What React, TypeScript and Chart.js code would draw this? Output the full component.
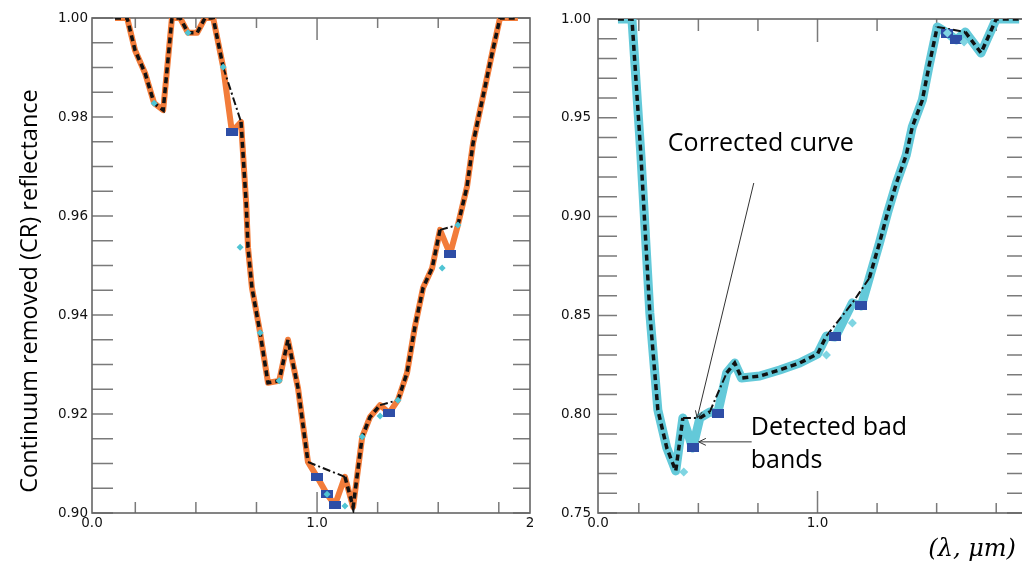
import React, { useEffect, useRef } from "react";
import { Chart, registerables } from "chart.js";

Chart.register(...registerables);

// ---------- Left panel (orange) ----------
const LEFT_WL = [0.333, 0.373, 0.399, 0.432, 0.462, 0.492, 0.521, 0.548, 0.574, 0.604, 0.630, 0.657, 0.690, 0.719, 0.749, 0.766, 0.772, 0.785, 0.812, 0.838, 0.875, 0.904, 0.937, 0.970, 1.000, 1.033, 1.059, 1.092, 1.119, 1.149, 1.175, 1.208, 1.238, 1.267, 1.297, 1.323, 1.350, 1.380, 1.406, 1.439, 1.465, 1.495, 1.515, 1.548, 1.578, 1.604, 1.663];
const LEFT_CR = [1.000, 1.000, 0.9935, 0.9889, 0.9828, 0.9814, 1.000, 1.000, 0.9970, 0.9970, 1.000, 1.000, 0.9901, 0.9770, 0.9790, 0.9626, 0.9537, 0.9455, 0.9364, 0.9263, 0.9267, 0.9350, 0.9253, 0.9103, 0.9073, 0.9038, 0.9016, 0.9073, 0.9012, 0.9154, 0.9194, 0.9218, 0.9202, 0.9228, 0.9283, 0.9376, 0.9455, 0.9495, 0.9572, 0.9523, 0.9582, 0.9659, 0.9747, 0.9842, 0.9929, 1.000, 1.000];
const LEFT_BAD = [13, 24, 25, 26, 32, 39];
const LEFT_MARK_WL = [0.462, 0.574, 0.690, 0.746, 0.812, 0.875, 1.033, 1.092, 1.149, 1.208, 1.267, 1.413, 1.465];
const LEFT_MARK_CR = [0.9828, 0.9970, 0.9901, 0.9537, 0.9364, 0.9267, 0.9038, 0.9014, 0.9154, 0.9196, 0.9228, 0.9495, 0.9582];

const LEFT_X_MIN = 0.257;
const LEFT_X_MAX = 1.703;
const LEFT_X_LABEL_VALUES = [LEFT_X_MIN, 1.0, LEFT_X_MAX];
const LEFT_X_LABELS = ["0.0", "1.0", "2"];
const LEFT_Y_LABELS = [0.90, 0.92, 0.94, 0.96, 0.98, 1.00];
const LEFT_Y_TICKS = [0.900, 0.905, 0.910, 0.915, 0.920, 0.925, 0.930, 0.935, 0.940, 0.945, 0.950, 0.955, 0.960, 0.965, 0.970, 0.975, 0.980, 0.985, 0.990, 0.995, 1.000];

// ---------- Right panel (cyan) ----------
const RIGHT_WL = [0.330, 0.377, 0.407, 0.437, 0.464, 0.494, 0.524, 0.548, 0.581, 0.605, 0.638, 0.665, 0.695, 0.722, 0.745, 0.806, 0.873, 0.940, 1.000, 1.030, 1.060, 1.117, 1.147, 1.174, 1.208, 1.235, 1.265, 1.298, 1.318, 1.352, 1.375, 1.402, 1.436, 1.466, 1.496, 1.549, 1.600, 1.677];
const RIGHT_CR = [1.000, 1.000, 0.9312, 0.8512, 0.8021, 0.7829, 0.7713, 0.7981, 0.7829, 0.7981, 0.8011, 0.8006, 0.8209, 0.8259, 0.8183, 0.8193, 0.8224, 0.8259, 0.8305, 0.8396, 0.8391, 0.8563, 0.8548, 0.8689, 0.8866, 0.9018, 0.9170, 0.9312, 0.9453, 0.9590, 0.9767, 0.9960, 0.9929, 0.9894, 0.9934, 0.9828, 1.000, 1.000];
const RIGHT_BAD = [8, 11, 20, 22, 32, 33];
const RIGHT_MARK_WL = [0.551, 1.030, 1.117, 1.436, 1.492];
const RIGHT_MARK_CR = [0.7708, 0.8300, 0.8462, 0.9929, 0.9884];

const RIGHT_X_MIN = 0.263;
const RIGHT_X_MAX = 1.700;
const RIGHT_X_LABEL_VALUES = [RIGHT_X_MIN, 1.0];
const RIGHT_X_LABELS = ["0.0", "1.0"];
const RIGHT_Y_LABELS = [0.75, 0.80, 0.85, 0.90, 0.95, 1.00];
const RIGHT_Y_TICKS = [0.75, 0.76, 0.77, 0.78, 0.79, 0.80, 0.81, 0.82, 0.83, 0.84, 0.85, 0.86, 0.87, 0.88, 0.89, 0.90, 0.91, 0.92, 0.93, 0.94, 0.95, 0.96, 0.97, 0.98, 0.99, 1.00];

const X_TICKS = [0.4, 0.6, 0.8, 1.0, 1.2, 1.4, 1.6];
const X_MAJOR = [1.0];

const Y_TITLE = "Continuum removed (CR) reflectance";
const NOTE_TEXTS = [
  { text: "Corrected curve", x: 0.4975, y: 0.9332 },
  { text: "Detected bad", x: 0.776, y: 0.7895 },
  { text: "bands", x: 0.776, y: 0.7728 },
];
const NOTE_ARROWS = [
  { x0: 0.786, y0: 0.917, x1: 0.596, y1: 0.798 },
  { x0: 0.779, y0: 0.786, x1: 0.601, y1: 0.786 },
];
const AXIS_UNIT = { text: "(λ, μm)", x: 1.372, y: 0.7283 };

const ORANGE = "#F27C3A";
const CYAN_LINE = "#63C9D9";
const BLUE = "#2E4EA6";
const CYAN_MARK = "#4FC4D4";
const CYAN_MARK_R = "#7FD5E2";
const BLACK = "#111111";

function makeRect(w: number, h: number, color: string) {
  const c = document.createElement("canvas");
  c.width = w;
  c.height = h;
  const g = c.getContext("2d")!;
  g.fillStyle = color;
  g.fillRect(0, 0, w, h);
  return c;
}

type FrameCfg = {
  yTicks: number[];
  yLeftLen: number;
  yRightLen: number;
  xBotMinor: number;
  xBotMajor: number;
  xTopMinor: number;
  xTopMajor: number;
};

function framePlugin(cfg: FrameCfg) {
  return {
    id: "frameTicks",
    beforeDatasetsDraw(chart: any) {
      const { ctx, chartArea } = chart;
      const { left, right, top, bottom } = chartArea;
      const xs = chart.scales.x;
      const ys = chart.scales.y;
      ctx.save();
      ctx.strokeStyle = "#7a7a7a";
      ctx.lineWidth = 1.5;
      ctx.beginPath();
      for (const v of cfg.yTicks) {
        const py = ys.getPixelForValue(v);
        ctx.moveTo(left, py);
        ctx.lineTo(left + cfg.yLeftLen, py);
        ctx.moveTo(right, py);
        ctx.lineTo(right - cfg.yRightLen, py);
      }
      for (const v of X_TICKS) {
        const px = xs.getPixelForValue(v);
        if (px < left || px > right) continue;
        const major = X_MAJOR.includes(v);
        ctx.moveTo(px, bottom);
        ctx.lineTo(px, bottom - (major ? cfg.xBotMajor : cfg.xBotMinor));
        ctx.moveTo(px, top);
        ctx.lineTo(px, top + (major ? cfg.xTopMajor : cfg.xTopMinor));
      }
      ctx.stroke();
      ctx.strokeStyle = "#666666";
      ctx.lineWidth = 1.6;
      ctx.strokeRect(left, top, right - left, bottom - top);
      ctx.restore();
    },
  };
}

const yTitlePlugin = {
  id: "yTitle",
  afterDraw(chart: any) {
    const { ctx, chartArea } = chart;
    ctx.save();
    ctx.translate(30, chartArea.top + 273);
    ctx.rotate(-Math.PI / 2);
    ctx.font = '23.5px "Open Sans"';
    ctx.fillStyle = "#000";
    ctx.textAlign = "center";
    ctx.textBaseline = "middle";
    ctx.fillText(Y_TITLE, 0, 0);
    ctx.restore();
  },
};

function drawArrow(ctx: CanvasRenderingContext2D, x0: number, y0: number, x1: number, y1: number) {
  ctx.beginPath();
  ctx.moveTo(x0, y0);
  ctx.lineTo(x1, y1);
  const a = Math.atan2(y1 - y0, x1 - x0);
  const L = 8;
  ctx.moveTo(x1 - L * Math.cos(a - 0.45), y1 - L * Math.sin(a - 0.45));
  ctx.lineTo(x1, y1);
  ctx.lineTo(x1 - L * Math.cos(a + 0.45), y1 - L * Math.sin(a + 0.45));
  ctx.stroke();
}

const notesPlugin = {
  id: "notes",
  afterDraw(chart: any) {
    const { ctx } = chart;
    const xs = chart.scales.x;
    const ys = chart.scales.y;
    ctx.save();
    ctx.fillStyle = "#000";
    ctx.textAlign = "left";
    ctx.textBaseline = "alphabetic";
    ctx.font = '25px "Open Sans"';
    for (const n of NOTE_TEXTS) {
      ctx.fillText(n.text, xs.getPixelForValue(n.x), ys.getPixelForValue(n.y));
    }
    ctx.strokeStyle = "#333";
    ctx.lineWidth = 1;
    for (const a of NOTE_ARROWS) {
      drawArrow(ctx, xs.getPixelForValue(a.x0), ys.getPixelForValue(a.y0), xs.getPixelForValue(a.x1), ys.getPixelForValue(a.y1));
    }
    ctx.font = 'italic 24px "DejaVu Serif"';
    ctx.fillText(AXIS_UNIT.text, xs.getPixelForValue(AXIS_UNIT.x), ys.getPixelForValue(AXIS_UNIT.y));
    ctx.restore();
  },
};

const gapSegment = {
  borderDash: (c: any) => (c.p0.skip || c.p1.skip ? [8, 3, 2, 3] : undefined),
  borderWidth: (c: any) => (c.p0.skip || c.p1.skip ? 2 : undefined),
};

function buildConfig(side: "left" | "right") {
  const isLeft = side === "left";
  const wl = isLeft ? LEFT_WL : RIGHT_WL;
  const cr = isLeft ? LEFT_CR : RIGHT_CR;
  const bad = isLeft ? LEFT_BAD : RIGHT_BAD;
  const mwl = isLeft ? LEFT_MARK_WL : RIGHT_MARK_WL;
  const mcr = isLeft ? LEFT_MARK_CR : RIGHT_MARK_CR;
  const xLabelValues = isLeft ? LEFT_X_LABEL_VALUES : RIGHT_X_LABEL_VALUES;
  const xLabels = isLeft ? LEFT_X_LABELS : RIGHT_X_LABELS;
  const yLabels = isLeft ? LEFT_Y_LABELS : RIGHT_Y_LABELS;
  const square = isLeft ? makeRect(12, 8, BLUE) : makeRect(12, 9, BLUE);

  const tickFont = { family: '"DejaVu Sans"', size: 13.5 };

  const plugins: any[] = [
    framePlugin(
      isLeft
        ? { yTicks: LEFT_Y_TICKS, yLeftLen: 21, yRightLen: 17, xBotMinor: 11, xBotMajor: 21, xTopMinor: 10, xTopMajor: 22 }
        : { yTicks: RIGHT_Y_TICKS, yLeftLen: 19, yRightLen: 19, xBotMinor: 10, xBotMajor: 22, xTopMinor: 12, xTopMajor: 23 }
    ),
  ];
  plugins.push(isLeft ? yTitlePlugin : notesPlugin);

  return {
    type: "line",
    data: {
      datasets: [
        {
          label: "original",
          data: wl.map((x, i) => ({ x, y: cr[i] })),
          borderColor: isLeft ? ORANGE : CYAN_LINE,
          borderWidth: isLeft ? 6 : 9,
          borderJoinStyle: "round",
          pointRadius: 0,
          clip: 0,
          order: 5,
        },
        {
          label: "corrected",
          data: wl.map((x, i) => ({ x, y: bad.includes(i) ? null : cr[i] })),
          borderColor: BLACK,
          borderWidth: 3.5,
          borderDash: [6, 4],
          spanGaps: true,
          segment: gapSegment,
          pointRadius: 0,
          clip: 0,
          order: 4,
        },
        {
          label: "bad bands",
          data: bad.map((i) => ({ x: wl[i], y: cr[i] })),
          showLine: false,
          pointStyle: square,
          pointRadius: 6,
          order: 3,
        },
        {
          label: "markers",
          data: mwl.map((x, i) => ({ x, y: mcr[i] })),
          showLine: false,
          pointStyle: "rectRot",
          pointRadius: isLeft ? 3.5 : 4.5,
          pointBorderWidth: 0,
          pointBackgroundColor: isLeft ? CYAN_MARK : CYAN_MARK_R,
          pointBorderColor: isLeft ? CYAN_MARK : CYAN_MARK_R,
          order: 2,
        },
      ],
    },
    options: {
      animation: false,
      responsive: true,
      maintainAspectRatio: false,
      events: [],
      layout: { padding: { left: 0, top: isLeft ? 18 : 19, right: isLeft ? 30 : 34, bottom: 0 } },
      plugins: { legend: { display: false }, tooltip: { enabled: false } },
      scales: {
        x: {
          type: "linear",
          min: isLeft ? LEFT_X_MIN : RIGHT_X_MIN,
          max: isLeft ? LEFT_X_MAX : RIGHT_X_MAX,
          grid: { display: false, drawTicks: false },
          border: { display: false },
          afterBuildTicks: (s: any) => {
            s.ticks = xLabelValues.map((v) => ({ value: v }));
          },
          afterFit: (s: any) => {
            s.height = 49;
          },
          ticks: {
            autoSkip: false,
            maxRotation: 0,
            padding: 2,
            color: "#111",
            font: tickFont,
            callback: (v: number) => {
              const k = xLabelValues.indexOf(v);
              return k >= 0 ? xLabels[k] : "";
            },
          },
        },
        y: {
          type: "linear",
          min: yLabels[0],
          max: yLabels[yLabels.length - 1],
          grid: { display: false, drawTicks: false },
          border: { display: false },
          afterBuildTicks: (s: any) => {
            s.ticks = yLabels.map((v) => ({ value: v }));
          },
          afterFit: (s: any) => {
            s.width = isLeft ? 92 : 58;
          },
          ticks: {
            autoSkip: false,
            padding: isLeft ? 4 : 7,
            color: "#111",
            font: tickFont,
            callback: (v: number) => v.toFixed(2),
          },
        },
      },
    },
    plugins,
  } as any;
}

export default function App() {
  const leftRef = useRef<HTMLCanvasElement>(null);
  const rightRef = useRef<HTMLCanvasElement>(null);

  useEffect(() => {
    const l = new Chart(leftRef.current!, buildConfig("left"));
    const r = new Chart(rightRef.current!, buildConfig("right"));
    return () => {
      l.destroy();
      r.destroy();
    };
  }, []);

  return (
    <div style={{ position: "absolute", left: 0, top: 0, width: 1022, height: 562, overflow: "hidden", background: "#fff" }}>
      <div style={{ position: "absolute", left: 0, top: 0, width: 560, height: 562 }}>
        <canvas ref={leftRef} />
      </div>
      <div style={{ position: "absolute", left: 540, top: 0, width: 520, height: 562 }}>
        <canvas ref={rightRef} />
      </div>
    </div>
  );
}
